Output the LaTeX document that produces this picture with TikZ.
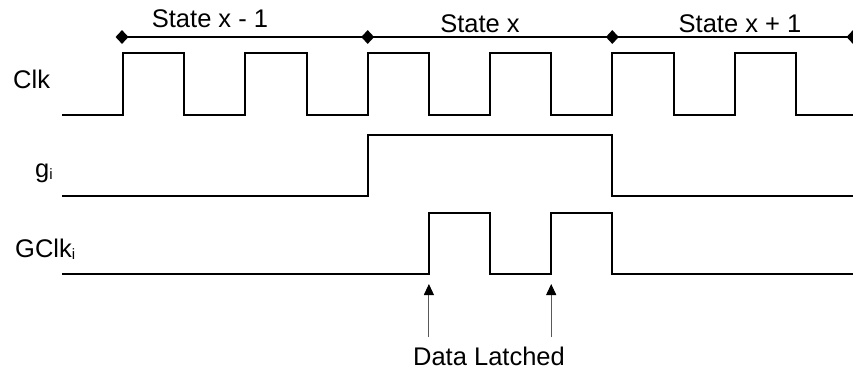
\documentclass[tikz,border=0pt]{standalone}
\usepackage{fontspec}
\setmainfont{Liberation Sans}
\usetikzlibrary{arrows.meta,shapes.geometric}
\newcommand{\mysub}[1]{\raisebox{-2.5pt}{\fontsize{15}{15}\selectfont #1}}
\begin{document}
\begin{tikzpicture}[x=1pt,y=-1pt,
  wave/.style={line width=2pt, line join=miter, black},
  lbl/.style={font=\fontsize{25.5}{25.5}\selectfont, inner sep=0pt, anchor=base},
  lblw/.style={lbl, anchor=base west},
  mark diamond/.style={diamond, fill=black, draw=none, inner sep=0pt, minimum width=13pt, minimum height=14pt},
  latch/.style={line width=1pt, draw=black!65, -{Triangle[length=11pt,width=10pt,color=black,fill=black]}}]
\useasboundingbox (0,0) rectangle (853,373);

% state markers
\node[mark diamond] (d1) at (122,37) {};
\node[mark diamond] (d2) at (367.7,37) {};
\node[mark diamond] (d3) at (612.3,37) {};
\node[mark diamond] (d4) at (853,37) {};
\draw[line width=2pt] (d1.center) -- (d2.center) -- (d3.center) -- (d4.center);

\node[lbl] (s1) at (210,27) {State x - 1};
\node[lbl] (s2) at (480,32) {State x};
\node[lbl] (s3) at (740,32) {State x + 1};

% signal labels
\node[lblw] (clk) at (13,88) {Clk};
\node[lblw] (g) at (35,177) {g\mysub{i}};
\node[lblw] (gclk) at (15,257) {GClk\mysub{i}};

% Clk
\draw[wave] (62,115) foreach \k in {0,...,5} {
  -- ({123+122.35*\k},115) -- ({123+122.35*\k},53)
  -- ({184.2+122.35*\k},53) -- ({184.2+122.35*\k},115) } -- (853,115);

% g_i
\draw[wave] (62,196) -- (367.7,196) -- (367.7,135) -- (612.3,135) -- (612.3,196) -- (853,196);

% GClk_i
\draw[wave] (62,274) -- (428.9,274) -- (428.9,213) -- (490,213) -- (490,274)
  -- (551.2,274) -- (551.2,213) -- (612.3,213) -- (612.3,274) -- (853,274);

% Data latched arrows
\coordinate (a1s) at (428.9,337);
\coordinate (a1e) at (428.9,284);
\coordinate (a2s) at (551.2,337);
\coordinate (a2e) at (551.2,284);
\draw[latch] (a1s) -- (a1e);
\draw[latch] (a2s) -- (a2e);
\node[lbl] (dl) at (489,365) {Data Latched};
\end{tikzpicture}
\end{document}
